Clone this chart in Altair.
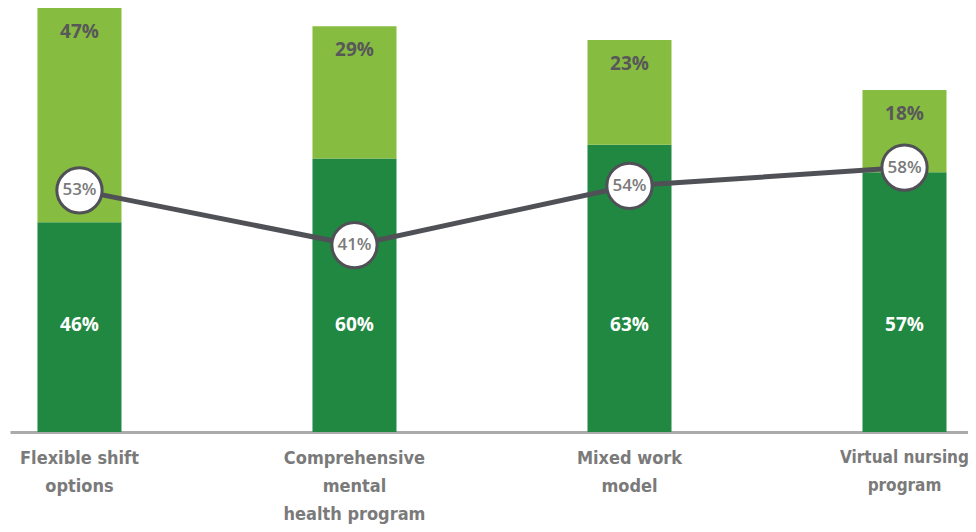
import altair as alt
import pandas as pd

categories = ["Flexible shift\noptions", "Comprehensive\nmental\nhealth program",
              "Mixed work\nmodel", "Virtual nursing\nprogram"]
dark_vals = [46, 60, 63, 57]
light_vals = [47, 29, 23, 18]
line_vals = [53, 41, 54, 58]

rows = []
for c, d, l, ln in zip(categories, dark_vals, light_vals, line_vals):
    rows.append({"cat": c, "zero": 0, "dark": d, "light": l, "top": d + l, "line": ln,
                 "dlab": f"{d}%", "llab": f"{l}%", "lnlab": f"{ln}%"})
df = pd.DataFrame(rows)

FONT = "Open Sans"
x = alt.X("cat:N", sort=categories, title=None,
          scale=alt.Scale(paddingInner=0.6945, paddingOuter=0.089, align=0.561),
          axis=alt.Axis(labelExpr="split(datum.label, '\\n')", labelAngle=0,
                        labelFont="DejaVu Sans Condensed", labelFontWeight="bold",
                        labelFontSize={"condition": {"test": "indexof(datum.value, 'Virtual') == 0",
                                                     "value": 17}, "value": 18},
                        labelColor="#7a7a7a", labelLineHeight=28,
                        labelPadding=17, labelBaseline="top",
                        ticks=False, domainColor="#ababab", domainWidth=3))
yscale = alt.Scale(domain=[0, 93], nice=False, zero=True)

def Y(field):
    return alt.Y(field, scale=yscale, axis=None, title=None)

base = alt.Chart(df)

dark_bar = base.mark_bar(color="#208841").encode(
    x=x, y=Y("zero:Q"), y2="dark:Q")
light_bar = base.mark_bar(color="#86bc3f").encode(
    x=x, y=Y("dark:Q"), y2="top:Q")

light_text = base.mark_text(font=FONT, fontWeight="bold", fontSize=19,
                            color="#58585a", dy=24).encode(
    x=x, y=Y("top:Q"), text="llab:N")
dark_text = base.transform_calculate(ly="23.4").mark_text(
    font=FONT, fontWeight="bold", fontSize=19, color="white").encode(
    x=x, y=Y("ly:Q"), text="dlab:N")

line = base.mark_line(color="#505057", strokeWidth=5).encode(
    x=x, y=Y("line:Q"))
pts = base.mark_point(filled=True, fill="white", stroke="#505057", strokeWidth=3,
                      size=2050, opacity=1, shape="circle").encode(
    x=x, y=Y("line:Q"))
line_text = base.mark_text(font=FONT, fontWeight=600, fontSize=17,
                           color="#7a7a7a").encode(
    x=x, y=Y("line:Q"), text="lnlab:N")

chart = alt.layer(dark_bar, light_bar, light_text, dark_text, line, pts, line_text).properties(
    width=958, height=424,
    padding={"left": 2, "right": 0, "top": 0, "bottom": 92},
    autosize=alt.AutoSizeParams(type="none"),
    background="white",
).configure_view(stroke=None)

chart.save("out.html", embed_options={"renderer": "svg", "actions": False})
